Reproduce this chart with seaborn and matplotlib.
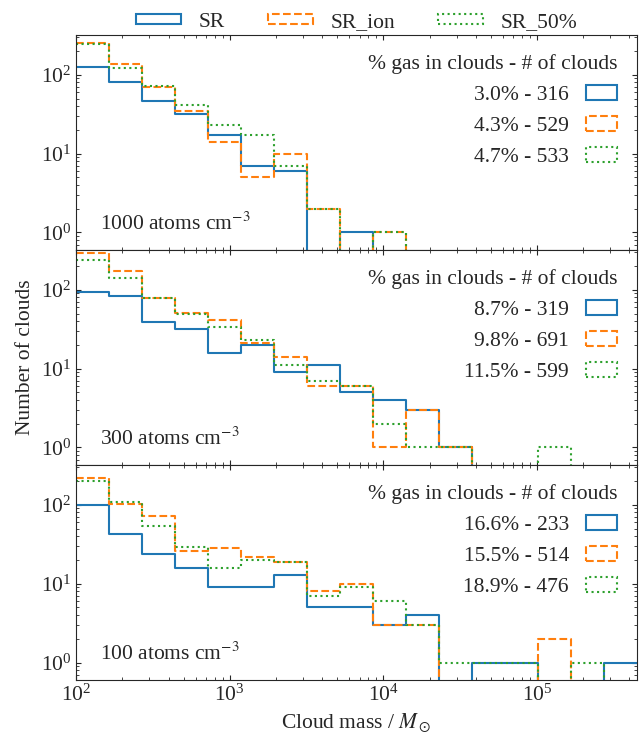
import numpy as np
import pandas as pd
import matplotlib
matplotlib.use("Agg")
import matplotlib.pyplot as plt
from matplotlib.patches import Patch
import seaborn as sns

# Mass bins: 17 logarithmic bins, edges in log10(M / M_sun)
log_edges = np.linspace(2.0, 5.65, 18)

runs = ["SR", "SR_ion", "SR_50%"]
densities = ["1000", "300", "100"]

# Number of clouds per mass bin, one list per run and density threshold
counts_1000_sr = [125, 81, 47, 32, 17, 7, 6, 0, 1, 0, 0, 0, 0, 0, 0, 0, 0]
counts_1000_ion = [253, 138, 71, 35, 14, 5, 10, 2, 0, 1, 0, 0, 0, 0, 0, 0, 0]
counts_1000_50 = [245, 123, 73, 42, 23, 17, 7, 2, 0, 1, 0, 0, 0, 0, 0, 0, 0]

counts_300_sr = [95, 84, 39, 32, 16, 20, 9, 11, 5, 4, 3, 1, 0, 0, 0, 0, 0]
counts_300_ion = [295, 173, 79, 51, 41, 21, 14, 6, 6, 1, 3, 1, 0, 0, 0, 0, 0]
counts_300_50 = [242, 143, 78, 50, 34, 23, 11, 7, 6, 2, 1, 1, 0, 0, 1, 0, 0]

counts_100_sr = [99, 43, 24, 16, 9, 9, 13, 5, 5, 3, 4, 0, 1, 1, 0, 0, 1]
counts_100_ion = [219, 102, 72, 26, 28, 22, 19, 8, 10, 3, 3, 0, 0, 0, 2, 0, 0]
counts_100_50 = [201, 108, 54, 29, 16, 20, 19, 7, 9, 6, 3, 1, 1, 1, 0, 1, 0]

# Fraction of gas in clouds and total number of clouds
gas_frac_1000 = ["3.0%", "4.3%", "4.7%"]
n_clouds_1000 = [316, 529, 533]
gas_frac_300 = ["8.7%", "9.8%", "11.5%"]
n_clouds_300 = [319, 691, 599]
gas_frac_100 = ["16.6%", "15.5%", "18.9%"]
n_clouds_100 = [233, 514, 476]

panels = [
    ([counts_1000_sr, counts_1000_ion, counts_1000_50], gas_frac_1000, n_clouds_1000),
    ([counts_300_sr, counts_300_ion, counts_300_50], gas_frac_300, n_clouds_300),
    ([counts_100_sr, counts_100_ion, counts_100_50], gas_frac_100, n_clouds_100),
]

colors = ["#1f77b4", "#ff7f0e", "#2ca02c"]
linestyles = ["-", "--", ":"]

sns.set_style("ticks")
plt.rcParams.update({
    "font.family": ["Liberation Serif", "DejaVu Serif"],
    "mathtext.fontset": "stix",
    "font.size": 15.5,
    "xtick.direction": "in",
    "ytick.direction": "in",
    "xtick.top": True,
    "ytick.right": True,
    "xtick.minor.visible": True,
    "ytick.minor.visible": True,
})

centres = 10 ** ((log_edges[:-1] + log_edges[1:]) / 2)

fig, axes = plt.subplots(3, 1, sharex=True, sharey=True, figsize=(6.4, 7.38), dpi=100)
fig.subplots_adjust(left=0.119, right=0.995, top=0.9526, bottom=0.0786, hspace=0)

for ax, dens, (series, fracs, ncl) in zip(axes, densities, panels):
    for counts, color, ls in zip(series, colors, linestyles):
        binned = pd.DataFrame({"mass": centres, "count": np.asarray(counts, dtype=float)})
        sns.histplot(data=binned, x="mass", weights="count", bins=list(log_edges),
                     log_scale=True, element="step", fill=False, color=color,
                     linestyle=ls, linewidth=1.5, ax=ax)
    ax.set_yscale("log")
    ax.set_xlim(10 ** log_edges[0], 10 ** log_edges[-1])
    ax.set_ylim(0.6, 320)
    ax.set_ylabel("")
    ax.tick_params(which="both", direction="in", top=True, right=True)
    ax.text(0.043, 0.095, dens + r" atoms cm$^{-3}$", transform=ax.transAxes,
            ha="left", va="baseline")
    handles = [Patch(facecolor="none", edgecolor=c, linestyle=ls, linewidth=1.5)
               for c, ls in zip(colors, linestyles)]
    labels = [f"{f} - {n}" for f, n in zip(fracs, ncl)]
    ax.legend(handles, labels, title="% gas in clouds - # of clouds",
              loc="upper right", frameon=False, markerfirst=False,
              alignment="right", handlelength=1.45, title_fontsize=15.5)

axes[1].set_ylabel("Number of clouds")
axes[2].set_xlabel(r"Cloud mass / $M_\odot$")

top_handles = [Patch(facecolor="none", edgecolor=c, linestyle=ls, linewidth=1.5)
               for c, ls in zip(colors, linestyles)]
fig.legend(top_handles, runs, loc="center", bbox_to_anchor=(0.557, 0.97),
           ncol=3, frameon=False, handlelength=2.1, handleheight=0.4)

fig.savefig("out.png", dpi=100)
